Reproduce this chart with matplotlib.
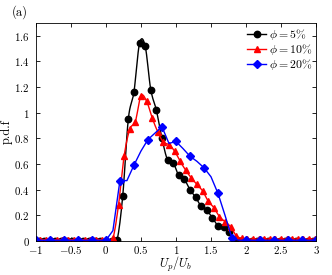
import numpy as np
import matplotlib
matplotlib.use("Agg")
import matplotlib.pyplot as plt
from matplotlib.ticker import FuncFormatter

plt.rcParams['font.family'] = 'serif'
plt.rcParams['font.serif'] = ['cmr10', 'DejaVu Serif']
plt.rcParams['mathtext.fontset'] = 'cm'
plt.rcParams['axes.unicode_minus'] = False
plt.rcParams['axes.formatter.use_mathtext'] = True

# ---- data ----
x_black = np.round(-0.96 + 0.08 * np.arange(50), 2)
y_black = [0.0] * 14 + [0.01, 0.35, 0.95, 1.16, 1.54, 1.52, 1.18, 1.02, 0.80, 0.63,
                        0.61, 0.51, 0.48, 0.40, 0.34, 0.27, 0.24, 0.18, 0.12, 0.11,
                        0.07, 0.01] + [0.0] * 14

x_red = np.round(-0.94 + 0.08 * np.arange(50), 2)
y_red = [0.01] * 13 + [0.02, 0.28, 0.66, 0.87, 0.93, 1.13, 1.09, 0.96, 0.85, 0.77,
                       0.75, 0.70, 0.62, 0.55, 0.49, 0.44, 0.39, 0.31, 0.26, 0.19,
                       0.15, 0.11, 0.04, 0.02] + [0.015] * 13

x_blue = np.round(np.arange(-1.0, 3.01, 0.1), 2)
y_blue = [0.005] * 11 + [0.08, 0.47, 0.47, 0.59, 0.70, 0.79, 0.84, 0.89, 0.76, 0.775,
                         0.72, 0.66, 0.62, 0.57, 0.50, 0.37, 0.20, 0.02, 0.005] + [0.005] * 11

labels = [r'$\phi = 5\%$', r'$\phi = 10\%$', r'$\phi = 20\%$']
colors = ['black', 'red', 'blue']
markers = ['o', '^', 'D']


def smooth(x, y, n=8):
    x = np.asarray(x, float)
    y = np.asarray(y, float)
    xs, ys = [], []
    N = len(x)
    for i in range(N - 1):
        m0 = (y[i + 1] - y[i - 1]) / 2 if i > 0 else (y[i + 1] - y[i])
        m1 = (y[i + 2] - y[i]) / 2 if i + 2 < N else (y[i + 1] - y[i])
        t = np.linspace(0, 1, n, endpoint=False)
        h00 = 2 * t**3 - 3 * t**2 + 1
        h10 = t**3 - 2 * t**2 + t
        h01 = -2 * t**3 + 3 * t**2
        h11 = t**3 - t**2
        xs.append(x[i] + t * (x[i + 1] - x[i]))
        ys.append(h00 * y[i] + h10 * m0 + h01 * y[i + 1] + h11 * m1)
    xs.append([x[-1]])
    ys.append([y[-1]])
    return np.concatenate(xs), np.concatenate(ys)


fig = plt.figure(figsize=(3.32, 2.75), dpi=100)
ax = fig.add_axes([0.108, 0.124, 0.844, 0.793])

for xd, yd, c, m, lab in [(x_black, y_black, colors[0], markers[0], labels[0]),
                          (x_red, y_red, colors[1], markers[1], labels[1])]:
    xs, ys = smooth(xd, yd)
    ax.plot(xs, ys, color=c, lw=1.0)
    ax.plot(xd, yd, linestyle='none', marker=m, color=c, ms=4.6)
    ax.plot([], [], color=c, marker=m, ms=4.6, lw=1.0, label=lab)

ax.plot(x_blue, y_blue, color=colors[2], lw=1.0)
ax.plot(x_blue[::2], y_blue[::2], linestyle='none', marker=markers[2], color=colors[2], ms=3.8)
ax.plot([], [], color=colors[2], marker=markers[2], ms=3.8, lw=1.0, label=labels[2])

ax.set_xlim(-1, 3)
ax.set_ylim(0, 1.7)
ax.set_xticks(np.arange(-1, 3.01, 0.5))
ax.set_yticks(np.arange(0, 1.61, 0.2))
fmt = FuncFormatter(lambda v, p: '$%s$' % ('%g' % round(v, 2)))
ax.xaxis.set_major_formatter(fmt)
ax.yaxis.set_major_formatter(fmt)
ax.tick_params(direction='in', top=True, right=True, labelsize=7.8, length=3, width=0.6)
ax.tick_params(axis='x', pad=2.0)
ax.tick_params(axis='y', pad=4.5)
for s in ax.spines.values():
    s.set_linewidth(0.6)

ax.set_xlabel(r'$U_p/U_b$', fontsize=8.8, va='top')
ax.xaxis.set_label_coords(0.5, -0.062)
ax.set_ylabel('p.d.f', fontsize=9, labelpad=1)
fig.text(0.035, 0.955, '(a)', fontsize=9, va='center', ha='left')

ax.legend(loc='upper right', frameon=False, fontsize=8.5, handlelength=1.6,
          handletextpad=0.2, labelspacing=0.0, borderaxespad=0.15, borderpad=0.2)

fig.savefig('out.png', dpi=100)
